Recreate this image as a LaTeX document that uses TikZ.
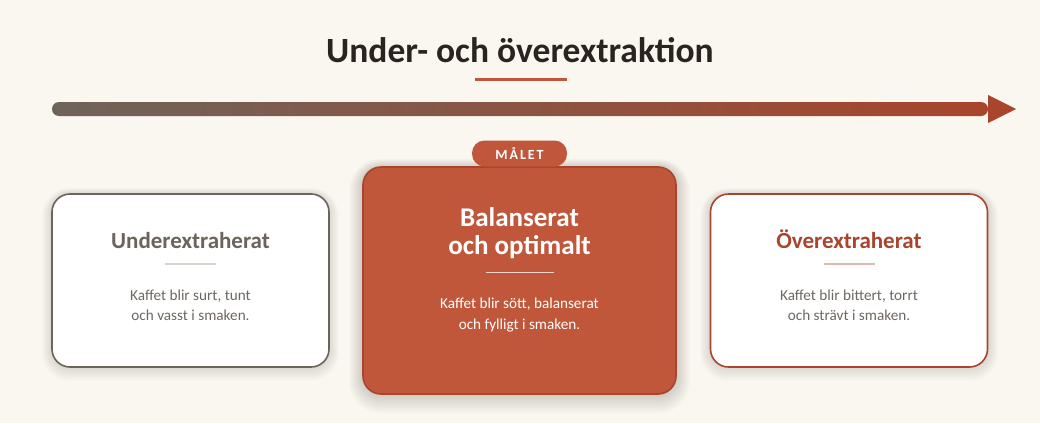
\documentclass[tikz,border=0pt]{standalone}
\usepackage{fontspec}
\setmainfont{Carlito}
\definecolor{bg}{HTML}{FAF6F0}
\definecolor{ink}{HTML}{2A2420}
\definecolor{stone}{HTML}{6B645B}
\definecolor{rust}{HTML}{C0563A}
\definecolor{darkrust}{HTML}{A8452C}
\definecolor{lightline}{HTML}{D6D2CC}
\definecolor{pinkline}{HTML}{E2B9AC}
\definecolor{body}{HTML}{6E6862}
\newcommand{\mysoftshadow}[6]{%
  \foreach \i in {1,...,#6}{
    \fill[black, opacity=#5, rounded corners=18pt+\i pt] (#1-\i,#2-\i+\i*0.4) rectangle (#3+\i,#4+\i+\i*0.4);
  }}
\tikzset{
  card/.style={rounded corners=18pt, line width=1.6pt, minimum width=277pt, minimum height=173pt, inner sep=0pt},
  cardtitle/.style={font=\fontsize{23}{26}\selectfont\bfseries, align=center, inner sep=0pt},
  bodytext/.style={font=\fontsize{15.2}{20}\selectfont, align=center, inner sep=0pt, text=body},
  divider/.style={line width=1.6pt}
}
\begin{document}
\begin{tikzpicture}[x=1pt,y=-1pt]
\useasboundingbox (0,0) rectangle (1040,423);
\fill[bg] (0,0) rectangle (1040,423);
% title
\node[font=\fontsize{35.5}{40}\selectfont\bfseries, text=ink, anchor=base, inner sep=0pt] (title) at (520,62) {Under- och överextraktion};
\coordinate (ul1) at (475,79);
\coordinate (ul2) at (567,79);
\draw[rust, line width=3pt] (ul1) -- (ul2);
% gradient bar
\shade[left color=stone!95!rust, middle color=rust, right color=darkrust, rounded corners=7pt] (52,102) rectangle (988,116);
\coordinate (tipA) at (988,95);
\coordinate (tipB) at (1016,109);
\coordinate (tipC) at (988,123);
\fill[darkrust] (tipA) -- (tipB) -- (tipC) -- cycle;
% shadows
\mysoftshadow{52}{194}{329}{367}{0.010}{10}
\mysoftshadow{710}{194}{988}{367}{0.010}{10}
\mysoftshadow{363}{167}{676}{394}{0.012}{14}
% left card
\node[card, draw=stone, fill=white] (left) at (190.5,280.5) {};
\node[cardtitle, text=stone, anchor=base] (lt) at (190.5,248) {Underextraherat};
\coordinate (ld1) at (165,264);
\coordinate (ld2) at (216,264);
\draw[divider, lightline] (ld1) -- (ld2);
\node[bodytext, anchor=base] (lb1) at (190.5,300.5) {Kaffet blir surt, tunt};
\node[bodytext, anchor=base] (lb2) at (190.5,320.5) {och vasst i smaken.};
% right card
\node[card, draw=darkrust, fill=white] (right) at (849,280.5) {};
\node[cardtitle, text=darkrust, anchor=base] (rt) at (849,248) {Överextraherat};
\coordinate (rd1) at (824,264);
\coordinate (rd2) at (875,264);
\draw[divider, pinkline] (rd1) -- (rd2);
\node[bodytext, anchor=base] (rb1) at (849,300.5) {Kaffet blir bittert, torrt};
\node[bodytext, anchor=base] (rb2) at (849,320.5) {och strävt i smaken.};
% middle card
\node[card, draw=darkrust, fill=rust, minimum width=313pt, minimum height=227pt] (mid) at (519.5,280.5) {};
\node[font=\fontsize{27}{28}\selectfont\bfseries, text=white, anchor=base, inner sep=0pt] (mt1) at (519.5,226) {Balanserat};
\node[font=\fontsize{27}{28}\selectfont\bfseries, text=white, anchor=base, inner sep=0pt] (mt2) at (519.5,254) {och optimalt};
\coordinate (md1) at (486,272.5);
\coordinate (md2) at (554,272.5);
\draw[divider, white!75!rust] (md1) -- (md2);
\node[bodytext, text=white, anchor=base] (mb1) at (519.5,308) {Kaffet blir sött, balanserat};
\node[bodytext, text=white, anchor=base] (mb2) at (519.5,329) {och fylligt i smaken.};
% badge
\node[fill=rust, rounded corners=12.5pt, minimum width=95pt, minimum height=26pt, inner sep=0pt,
  text=white, font=\fontsize{14}{14}\selectfont\bfseries\addfontfeature{LetterSpace=14}] (badge) at (519.5,153.5) {MÅLET};
\end{tikzpicture}
\end{document}
